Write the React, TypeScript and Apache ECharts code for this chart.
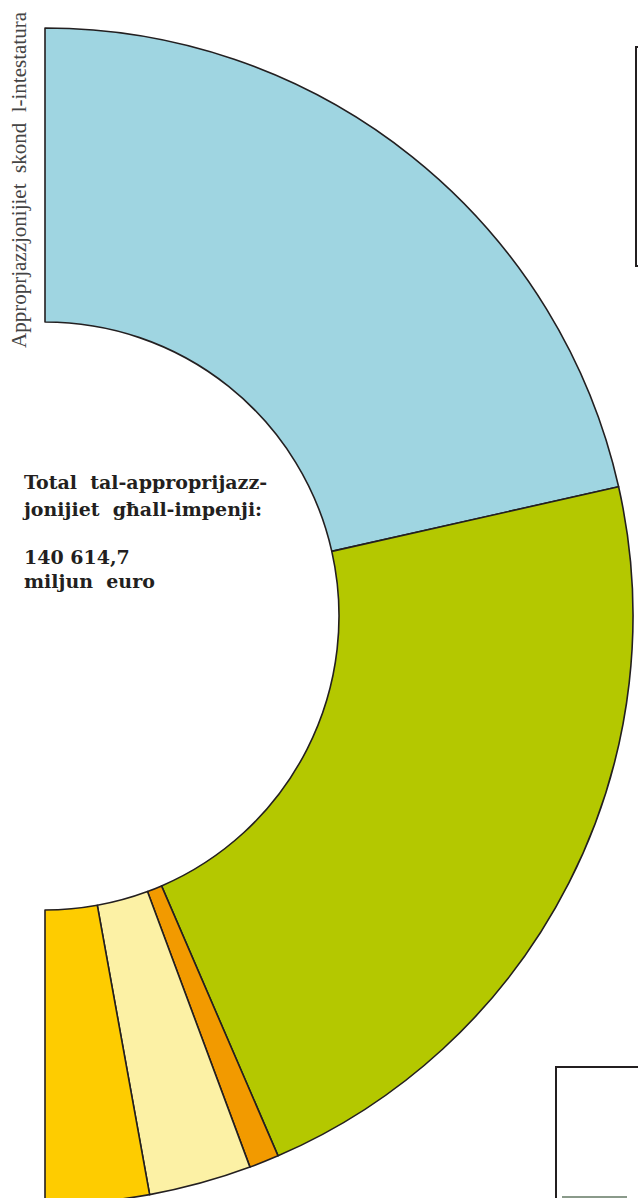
import React, { useEffect, useRef } from "react";
import * as echarts from "echarts";

const categories = [
  "1. Tkabbir sostenibbli",
  "2. Preservazzjoni u ġestjoni tar-riżorsi naturali",
  "3. Ċittadinanza, libertà, sigurtà u ġustizzja",
  "4. L-UE bħala attur globali",
  "5. Amministrazzjoni",
];
const values = [60386, 61987, 2305, 7929, 8007];
const colors = ["#9fd5e1", "#b4c800", "#f29a00", "#fcf1a5", "#fecc00"];

const axisTitle = "Approprjazzjonijiet  skond  l-intestatura";
const totalLines = ["Total  tal-approprijazz-", "jonijiet  għall-impenji:"];
const amountLines = ["140 614,7", "miljun  euro"];

export default function App() {
  const ref = useRef<HTMLDivElement>(null);
  useEffect(() => {
    if (!ref.current) return;
    const chart = echarts.init(ref.current, null, { renderer: "svg" });
    const boldFont = 'bold 19px "DejaVu Serif", serif';
    chart.setOption({
      animation: false,
      backgroundColor: "#ffffff",
      series: [
        {
          type: "pie",
          center: [45, 616],
          radius: [294, 588],
          startAngle: 90,
          endAngle: -90,
          clockwise: true,
          silent: true,
          label: { show: false },
          labelLine: { show: false },
          itemStyle: { borderColor: "#231f20", borderWidth: 1.6 },
          data: categories.map((name, i) => ({
            name,
            value: values[i],
            itemStyle: { color: colors[i] },
          })),
        },
      ],
      graphic: [
        {
          type: "text",
          x: 19,
          y: 180,
          rotation: Math.PI / 2,
          style: {
            text: axisTitle,
            font: '21px "Liberation Serif", serif',
            fill: "#444444",
            align: "center",
            verticalAlign: "middle",
            textAlign: "center",
            textVerticalAlign: "middle",
          },
        },
        ...[...totalLines, ...amountLines].map((t, i) => ({
          type: "text",
          x: 24,
          y: [481.5, 508.5, 557, 580.5][i],
          style: {
            text: t,
            font: boldFont,
            fill: "#231f20",
            align: "left",
            verticalAlign: "middle",
            textAlign: "left",
            textVerticalAlign: "middle",
          },
        })),
        {
          type: "rect",
          shape: { x: 636, y: 47, width: 40, height: 219 },
          style: { fill: "none", stroke: "#231f20", lineWidth: 2 },
        },
        {
          type: "rect",
          shape: { x: 556, y: 1067, width: 120, height: 160 },
          style: { fill: "none", stroke: "#231f20", lineWidth: 2 },
        },
        {
          type: "line",
          shape: { x1: 562, y1: 1197, x2: 627, y2: 1197 },
          style: { stroke: "#8a9a8a", lineWidth: 2 },
        },
      ],
    });
    return () => chart.dispose();
  }, []);
  return (
    <div
      ref={ref}
      style={{ position: "absolute", left: 0, top: 0, width: 638, height: 1198 }}
    />
  );
}
